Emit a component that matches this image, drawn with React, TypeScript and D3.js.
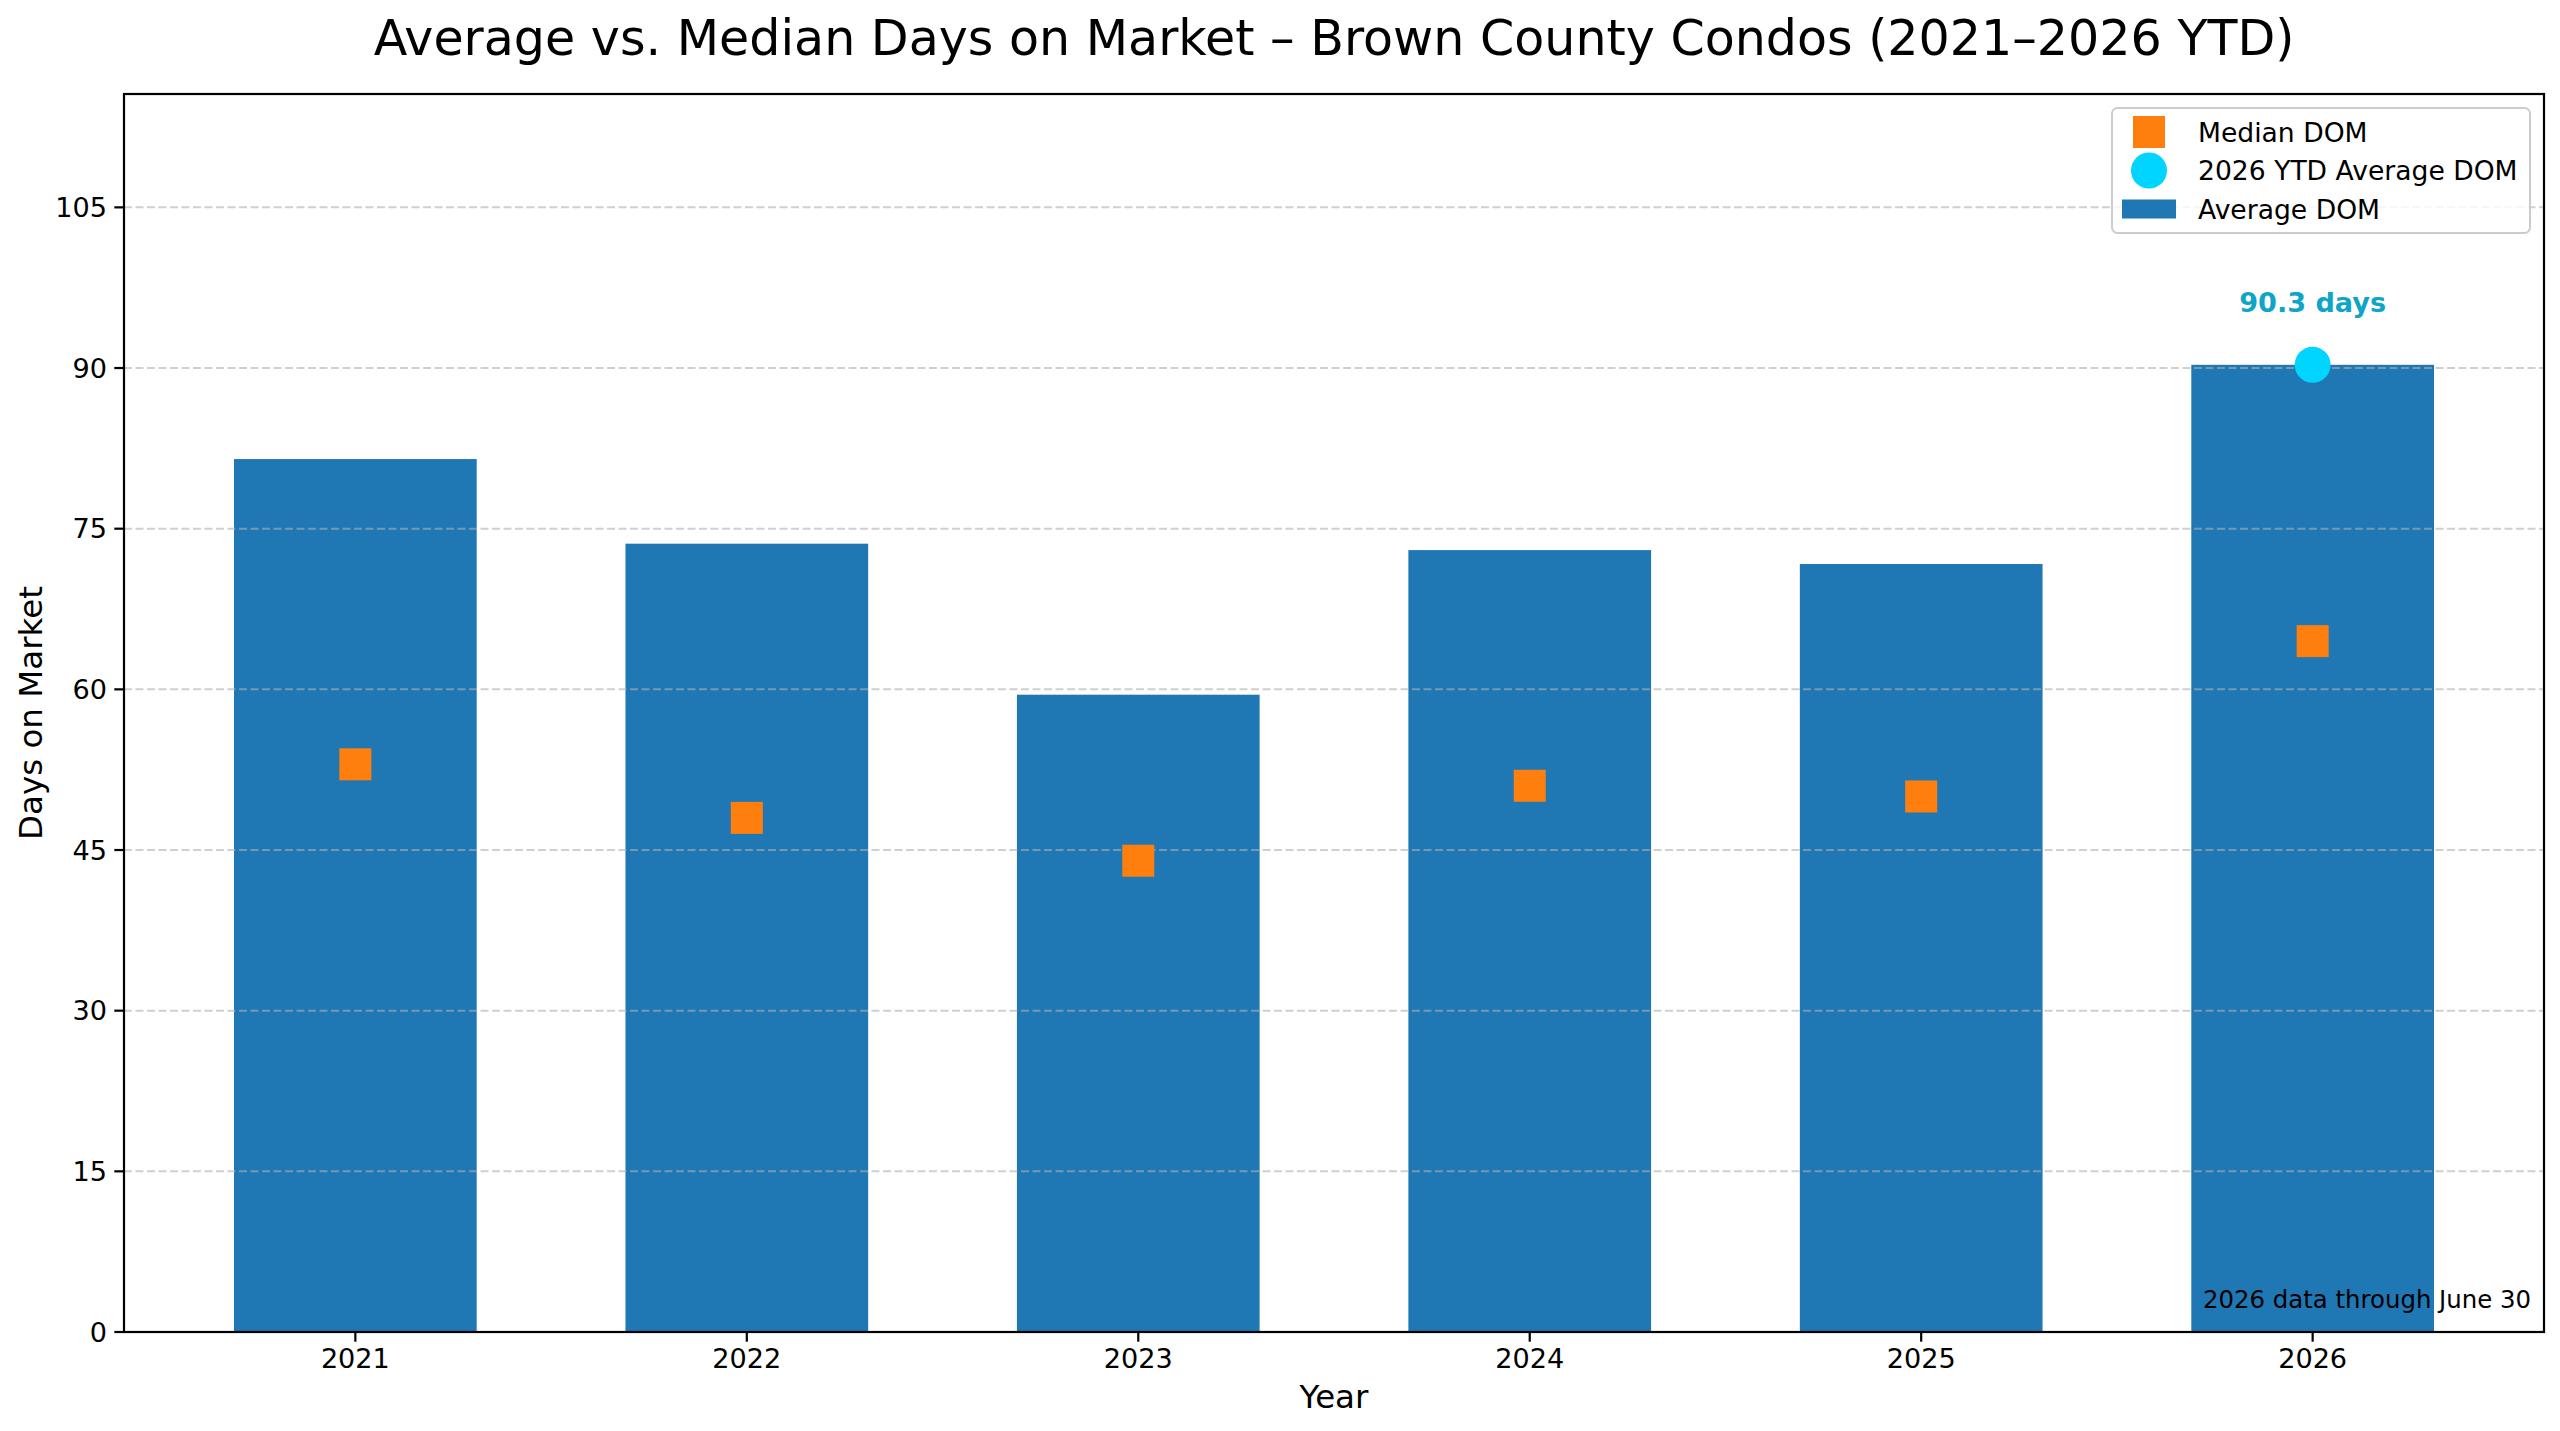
import { useEffect, useRef } from "react";
import * as d3 from "d3";

const years = ["2021", "2022", "2023", "2024", "2025", "2026"];
const averageDom = [81.5, 73.6, 59.5, 73.0, 71.7, 90.3];
const medianDom = [53.0, 48.0, 44.0, 51.0, 50.0, 64.5];
const ytdYear = "2026";
const ytdAverage = 90.3;
const yTicks = [0, 15, 30, 45, 60, 75, 90, 105];

const W = 2560;
const H = 1431;
const FONT = "DejaVu Sans, Verdana, sans-serif";
// point sizes at 200dpi, nudged a bit for browser text widths
const F10 = 27.1;
const F12 = 32.5;
const F18 = 49.1;
const F9 = 24.4;
const FLEG = 26.6;

export default function App() {
    const ref = useRef<SVGSVGElement>(null);

    useEffect(() => {
        document.body.style.margin = "0";
        if (!ref.current) return;
        const svg = d3.select(ref.current);
        svg.selectAll("*").remove();

        const left = 124;
        const right = 2544;
        const top = 94;
        const bottom = 1332;

        // same padding as matplotlib's bar margins
        const barW = 0.62;
        const n = years.length;
        const pad = 0.05 * (n - 1 + barW);
        const x = d3
            .scaleLinear()
            .domain([-barW / 2 - pad, n - 1 + barW / 2 + pad])
            .range([left, right]);
        const y = d3
            .scaleLinear()
            .domain([0, d3.max(averageDom)! * 1.28])
            .range([bottom, top]);

        const bw = x(barW) - x(0);

        // BARS
        svg
            .append("g")
            .selectAll("rect")
            .data(averageDom)
            .join("rect")
            .attr("x", (_, i) => x(i) - bw / 2)
            .attr("y", (d) => y(d))
            .attr("width", bw)
            .attr("height", (d) => y(0) - y(d))
            .attr("fill", "#1f77b4");

        // GRID (drawn over bars)
        svg
            .append("g")
            .selectAll("line")
            .data(yTicks.filter((t) => t > 0))
            .join("line")
            .attr("x1", left)
            .attr("x2", right)
            .attr("y1", (d) => y(d))
            .attr("y2", (d) => y(d))
            .attr("stroke", "#b0b0b0")
            .attr("stroke-opacity", 0.6)
            .attr("stroke-width", 2)
            .attr("stroke-dasharray", "8,3.5");

        // MEDIAN SQUARES
        const sq = 32;
        svg
            .append("g")
            .selectAll("rect")
            .data(medianDom)
            .join("rect")
            .attr("x", (_, i) => x(i) - sq / 2)
            .attr("y", (d) => y(d) - sq / 2)
            .attr("width", sq)
            .attr("height", sq)
            .attr("fill", "#ff7f0e");

        // YTD POINT + LABEL
        const yi = years.indexOf(ytdYear);
        svg
            .append("circle")
            .attr("cx", x(yi))
            .attr("cy", y(ytdAverage))
            .attr("r", 18)
            .attr("fill", "#00d5ff");
        svg
            .append("text")
            .attr("x", x(yi))
            .attr("y", y(ytdAverage) - 53)
            .attr("text-anchor", "middle")
            .attr("font-family", FONT)
            .attr("font-size", F10)
            .attr("font-weight", "bold")
            .attr("fill", "#0fa5c6")
            .text(`${ytdAverage.toFixed(1)} days`);

        // NOTE
        svg
            .append("text")
            .attr("x", right - 13)
            .attr("y", bottom - 24)
            .attr("text-anchor", "end")
            .attr("font-family", FONT)
            .attr("font-size", F9)
            .attr("fill", "#000")
            .text("2026 data through June 30");

        // SPINES
        svg
            .append("rect")
            .attr("x", left)
            .attr("y", top)
            .attr("width", right - left)
            .attr("height", bottom - top)
            .attr("fill", "none")
            .attr("stroke", "#000")
            .attr("stroke-width", 2.2);

        // Y AXIS TICKS
        const yt = svg.append("g");
        yt.selectAll("line")
            .data(yTicks)
            .join("line")
            .attr("x1", left - 9.7)
            .attr("x2", left)
            .attr("y1", (d) => y(d))
            .attr("y2", (d) => y(d))
            .attr("stroke", "#000")
            .attr("stroke-width", 2.2);
        yt.selectAll("text")
            .data(yTicks)
            .join("text")
            .attr("x", left - 17)
            .attr("y", (d) => y(d))
            .attr("dy", "0.36em")
            .attr("text-anchor", "end")
            .attr("font-family", FONT)
            .attr("font-size", F10)
            .text((d) => d);

        // X AXIS TICKS
        const xt = svg.append("g");
        xt.selectAll("line")
            .data(years)
            .join("line")
            .attr("x1", (_, i) => x(i))
            .attr("x2", (_, i) => x(i))
            .attr("y1", bottom)
            .attr("y2", bottom + 9.7)
            .attr("stroke", "#000")
            .attr("stroke-width", 2.2);
        xt.selectAll("text")
            .data(years)
            .join("text")
            .attr("x", (_, i) => x(i))
            .attr("y", bottom + 36)
            .attr("text-anchor", "middle")
            .attr("font-family", FONT)
            .attr("font-size", F10)
            .text((d) => d);

        // AXIS LABELS + TITLE
        svg
            .append("text")
            .attr("x", (left + right) / 2)
            .attr("y", 1408)
            .attr("text-anchor", "middle")
            .attr("font-family", FONT)
            .attr("font-size", F12)
            .text("Year");
        svg
            .append("text")
            .attr("transform", `translate(42,${(top + bottom) / 2}) rotate(-90)`)
            .attr("text-anchor", "middle")
            .attr("font-family", FONT)
            .attr("font-size", F12)
            .text("Days on Market");
        svg
            .append("text")
            .attr("x", (left + right) / 2)
            .attr("y", 55)
            .attr("text-anchor", "middle")
            .attr("font-family", FONT)
            .attr("font-size", F18)
            .text("Average vs. Median Days on Market – Brown County Condos (2021–2026 YTD)");

        // LEGEND
        const lg = svg.append("g").attr("transform", `translate(${right - 14 - 418},${top + 14})`);
        lg.append("rect")
            .attr("width", 418)
            .attr("height", 125)
            .attr("rx", 5.5)
            .attr("fill", "#fff")
            .attr("fill-opacity", 0.8)
            .attr("stroke", "#cccccc")
            .attr("stroke-width", 2);
        const rows = ["Median DOM", "2026 YTD Average DOM", "Average DOM"];
        const rowY = (i: number) => 24 + i * 38.5;
        lg.append("rect")
            .attr("x", 37 - sq / 2)
            .attr("y", rowY(0) - sq / 2)
            .attr("width", sq)
            .attr("height", sq)
            .attr("fill", "#ff7f0e");
        lg.append("circle")
            .attr("cx", 37)
            .attr("cy", rowY(1))
            .attr("r", 18)
            .attr("fill", "#00d5ff");
        lg.append("rect")
            .attr("x", 10)
            .attr("y", rowY(2) - 9.5)
            .attr("width", 54)
            .attr("height", 19)
            .attr("fill", "#1f77b4");
        lg.selectAll("text")
            .data(rows)
            .join("text")
            .attr("x", 86)
            .attr("y", (_, i) => rowY(i))
            .attr("dy", "0.36em")
            .attr("font-family", FONT)
            .attr("font-size", FLEG)
            .text((d) => d);
    }, []);

    return <svg ref={ref} width={W} height={H} style={{ display: "block", background: "#fff" }} />;
}
